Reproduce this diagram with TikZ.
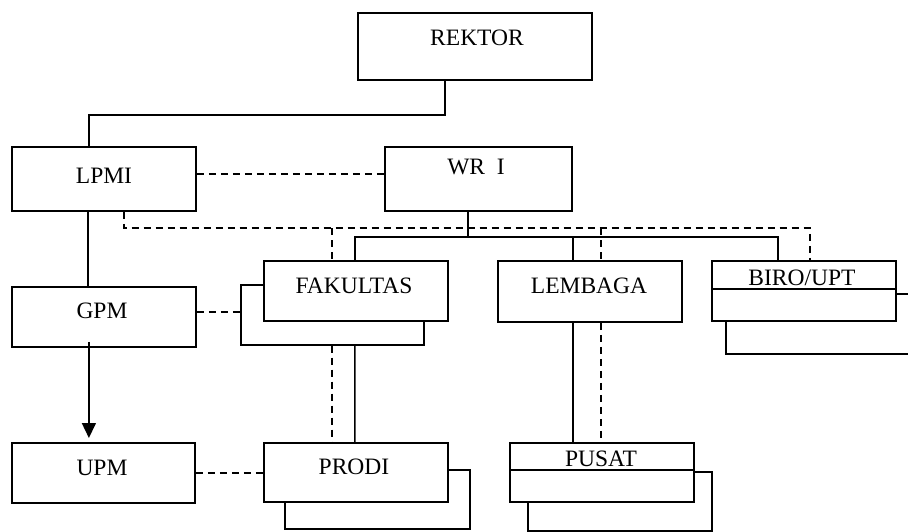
\documentclass[tikz,border=0pt]{standalone}
\usepackage{fontspec}
\setmainfont{Liberation Serif}
\usetikzlibrary{arrows.meta,calc}
\begin{document}
\begin{tikzpicture}[x=1pt,y=-1pt,
  box/.style={draw, line width=1.8pt, fill=white, inner sep=0pt, anchor=north west},
  backbox/.style={draw, line width=1.5pt, inner sep=0pt, anchor=north west},
  lbl/.style={anchor=base, inner sep=0pt, font=\fontsize{23.5}{28}\selectfont},
  conn/.style={line width=1.5pt},
  dsh/.style={line width=1.5pt, dash pattern=on 7pt off 5pt}]
\useasboundingbox (0,0) rectangle (908,531);
\clip (0,0) rectangle (908,531);
% back boxes
\node[backbox, minimum width=183pt, minimum height=60pt] (fakb) at (240,284) {};
\node[backbox, minimum width=184pt, minimum height=60pt] (birob) at (725,293) {};
\node[backbox, minimum width=185pt, minimum height=59pt] (prodib) at (284,469) {};
\node[backbox, minimum width=184pt, minimum height=59pt] (pusatb) at (527,471) {};
% front boxes
\node[box, minimum width=234pt, minimum height=67pt] (rektor) at (357,12) {};
\node[box, minimum width=184pt, minimum height=64pt] (lpmi) at (11,146) {};
\node[box, minimum width=187pt, minimum height=64pt] (wr) at (384,146) {};
\node[box, minimum width=184pt, minimum height=60pt] (gpm) at (11,286) {};
\node[box, minimum width=183pt, minimum height=60pt] (upm) at (11,442) {};
\node[box, minimum width=184pt, minimum height=60pt] (fak) at (263,260) {};
\node[box, minimum width=184pt, minimum height=61pt] (lem) at (497,260) {};
\node[box, minimum width=184pt, minimum height=60pt] (biro) at (711,260) {};
\node[box, minimum width=184pt, minimum height=59pt] (prodi) at (263,442) {};
\node[box, minimum width=184pt, minimum height=59pt] (pusat) at (509,442) {};
% dividers
\draw[line width=1.6pt] ([yshift=-29pt]biro.north west) -- ([yshift=-29pt]biro.north east);
\draw[line width=1.6pt] ([yshift=-28pt]pusat.north west) -- ([yshift=-28pt]pusat.north east);
% labels
\node[lbl] (t1) at (477,45) {REKTOR};
\node[lbl] (t2) at (476,174) {WR\ \ I};
\node[lbl] (t3) at (104,183) {LPMI};
\node[lbl] (t4) at (354,293) {FAKULTAS};
\node[lbl] (t5) at (589,293) {LEMBAGA};
\node[lbl] (t6) at (802,285) {BIRO/UPT};
\node[lbl] (t7) at (102,318) {GPM};
\node[lbl] (t8) at (102,475) {UPM};
\node[lbl] (t9) at (354,474) {PRODI};
\node[lbl] (t10) at (601,466) {PUSAT};
% helper coordinates
\coordinate (bar) at (0,237);
\coordinate (dj) at (0,228);
\coordinate (wrs) at ([xshift=-10.5pt]wr.south);
\coordinate (fakn) at ([xshift=-1pt]fak.north);
\coordinate (lemn) at ([xshift=-17pt]lem.north);
\coordinate (biron) at ([xshift=-26pt]biro.north);
\coordinate (ls) at ([xshift=20pt]lpmi.south);
\coordinate (bs) at ([xshift=6pt]biro.north);
\coordinate (fs) at ([xshift=-24pt]fak.north);
\coordinate (lds) at ([xshift=11pt]lem.north);
\coordinate (la) at ([yshift=5pt]lpmi.east);
\coordinate (ga) at ([yshift=5pt]gpm.east);
\coordinate (fbs) at ([xshift=-0.5pt]fakb.south);
% solid connectors
\draw[conn] ([xshift=-30pt]rektor.south) -- ++(0,34) -| ([xshift=-15pt]lpmi.north);
\draw[conn] ([xshift=-16pt]lpmi.south) -- ([xshift=-16pt]gpm.north);
\draw[conn, -{Triangle[width=14pt,length=15pt]}, shorten >=4pt] ([xshift=-15pt,yshift=6pt]gpm.south) -- ([xshift=-14.5pt]upm.north);
\draw[conn] (wrs) -- (wrs |- bar);
\draw[conn] (fakn) -- (fakn |- bar) -- (biron |- bar) -- (biron);
\draw[conn] (lemn |- bar) -- (lemn);
\draw[conn] ([xshift=-17pt]lem.south) -- ([xshift=-29pt]pusat.north);
\draw[conn] ([xshift=22.5pt]fakb.south) -- ([xshift=-1pt]prodi.north);
% dashed connectors
\draw[dsh] (la) -- (la -| wr.west);
\draw[dsh] (ls) -- (ls |- dj) -- (bs |- dj) -- (bs);
\draw[dsh] (fs |- dj) -- (fs);
\draw[dsh] (lds |- dj) -- (lds);
\draw[dsh] ([xshift=11pt]lem.south) -- ([xshift=-1pt]pusat.north);
\draw[dsh] (fbs) -- (fbs |- prodi.north);
\draw[dsh] (ga) -- (ga -| fakb.west);
\draw[dsh] (upm.east) -- (upm.east -| prodi.west);
\end{tikzpicture}
\end{document}
